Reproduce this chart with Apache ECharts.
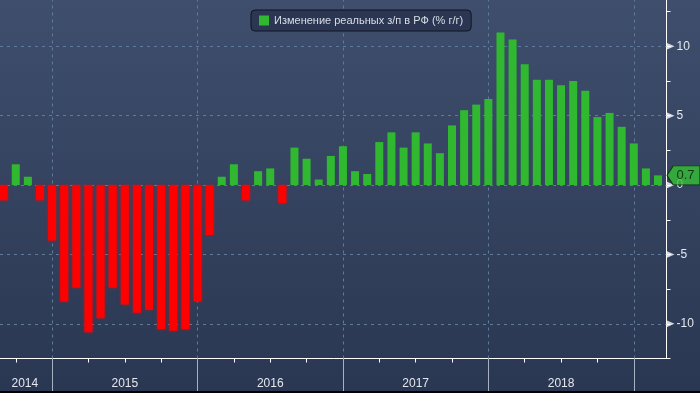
<!DOCTYPE html>
<html><head><meta charset="utf-8">
<script src="https://cdn.jsdelivr.net/npm/echarts@6/dist/echarts.min.js"></script>
<style>html,body{margin:0;padding:0;background:#2b3853}#c{width:700px;height:393px}</style>
</head><body><div id="c"></div>
<script>
// Monthly data, Aug 2014 .. Feb 2019 (index 0 = Aug 2014)
const values = [
  -1.1, 1.5, 0.6, -1.1, -4.0,
  -8.4, -7.4, -10.6, -9.6, -7.4, -8.6, -9.2, -9.0, -10.4, -10.5, -10.4, -8.4,
  -3.6, 0.6, 1.5, -1.1, 1.0, 1.2, -1.3, 2.7, 1.9, 0.4, 2.1, 2.8,
  1.0, 0.8, 3.1, 3.8, 2.7, 3.8, 3.0, 2.3, 4.3, 5.4, 5.8, 6.2,
  11.0, 10.5, 8.7, 7.6, 7.6, 7.2, 7.5, 6.8, 4.9, 5.2, 4.2, 3.0,
  1.2, 0.7
];
const yearLabels = ['2014', '2015', '2016', '2017', '2018'];
const yearLabelIdx = [1.75, 10, 22, 34, 46];
const yearStartIdx = [4, 16, 28, 40, 52];
const quarterIdx = [1, 7, 10, 13, 19, 22, 25, 31, 34, 37, 43, 46, 49];
const yMajor = [-10, -5, 0, 5, 10];
const seriesName = 'Изменение реальных з/п в РФ (% г/г)';

const X_MIN = -0.3, X_MAX = 54.7;
const GREEN = '#30b930', RED = '#ff0000';
const FONT = 'Liberation Sans';

const barData = values.map((v, i) => ({
  value: [i, v],
  itemStyle: v < 0 ? { color: RED, shadowBlur: 3, shadowColor: 'rgba(255,0,0,0.6)' } : { color: GREEN }
}));
const lastVal = values[values.length - 1];

const chart = echarts.init(document.getElementById('c'), null, { renderer: 'canvas' });
chart.setOption({
  animation: false,
  backgroundColor: {
    type: 'linear', x: 0, y: 0, x2: 0, y2: 1,
    colorStops: [{ offset: 0, color: '#3e4e6c' }, { offset: 1, color: '#2a3752' }]
  },
  grid: { left: 0, right: 33.5, top: 0, bottom: 34.5, containLabel: false, outerBoundsMode: 'none' },
  legend: {
    left: 251, top: 10,
    backgroundColor: '#2b3752', borderColor: '#0e1424', borderWidth: 1, borderRadius: 4,
    padding: [5, 8, 5, 8], itemWidth: 10, itemHeight: 10, icon: 'rect',
    textStyle: { color: '#d8dde6', fontSize: 11, fontFamily: FONT },
    data: [seriesName]
  },
  xAxis: [{
    type: 'value', min: X_MIN, max: X_MAX, position: 'bottom',
    axisLine: { show: true, onZero: false, lineStyle: { color: '#ffffff', width: 1 } },
    axisTick: { show: true, customValues: quarterIdx, length: 4, lineStyle: { color: '#ffffff' } },
    axisLabel: {
      show: true, customValues: yearLabelIdx, margin: 19,
      color: '#e4e8ee', fontSize: 12, fontFamily: FONT,
      formatter: v => yearLabels[yearLabelIdx.indexOf(v)] || ''
    },
    splitLine: { show: false }
  }, {
    type: 'value', min: X_MIN, max: X_MAX, position: 'bottom',
    axisLine: { show: false, onZero: false },
    axisTick: { show: true, customValues: yearStartIdx, length: 35, lineStyle: { color: '#a8b1c2' } },
    axisLabel: { show: false },
    splitLine: { show: false }
  }],
  yAxis: {
    type: 'value', position: 'right', min: -12.5, max: 13.34, interval: 2.5,
    axisLine: { show: true, onZero: false, lineStyle: { color: '#ffffff', width: 1 } },
    axisTick: { show: true, length: 4, lineStyle: { color: '#ffffff' } },
    axisLabel: {
      margin: 10, color: '#e4e8ee', fontSize: 12, fontFamily: FONT,
      showMaxLabel: false,
      formatter: v => (Math.abs(v % 5) < 1e-9 ? String(v) : '')
    },
    splitLine: { show: false }
  },
  series: [{
    type: 'scatter', data: [], z: 1, silent: true,
    markLine: {
      z: 1, silent: true, symbol: 'none', animation: false,
      label: { show: false },
      lineStyle: { type: [3, 4], color: '#5f7b9b', width: 1 },
      data: yearStartIdx.map(x => ({ xAxis: x })).concat(yMajor.map(y => ({ yAxis: y })))
    }
  }, {
    name: seriesName, type: 'bar', z: 3, barWidth: 8,
    itemStyle: { color: GREEN },
    data: barData
  }, {
    type: 'scatter', z: 5, clip: false, silent: true,
    symbol: 'triangle', symbolRotate: -90, symbolSize: [7, 8], symbolOffset: [4, 0],
    itemStyle: { color: '#ffffff' },
    data: yMajor.map(y => [X_MAX, y])
  }, {
    type: 'scatter', z: 10, clip: false, silent: true,
    symbol: 'path://M0,9L6,0L32,0L32,18L6,18Z', symbolSize: [33, 19], symbolOffset: [17, 0],
    itemStyle: { color: '#35c235', borderColor: '#0b240b', borderWidth: 1 },
    label: {
      show: true, position: 'inside', offset: [2, 0], color: '#0c1a0c', fontSize: 13, fontFamily: FONT,
      formatter: p => p.value[1].toFixed(1)
    },
    data: [[X_MAX, lastVal]]
  }],
  graphic: [{ type: 'rect', left: 0, bottom: 0, shape: { width: 700, height: 2 }, style: { fill: '#000' }, z: 100 }]
});
</script></body></html>
